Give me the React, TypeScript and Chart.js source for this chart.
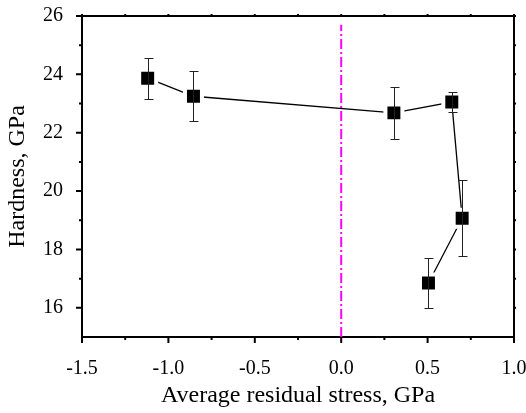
import React, { useEffect, useRef } from 'react';
import { Chart, registerables } from 'chart.js';

Chart.register(...registerables);

const stress = [-1.12, -0.855, 0.305, 0.64, 0.70, 0.505];
const hardness = [23.87, 23.25, 22.68, 23.05, 19.07, 16.85];
const hardnessErr = [0.7, 0.85, 0.9, 0.33, 1.3, 0.87];
const xTicks = [-1.5, -1.0, -0.5, 0, 0.5, 1.0];
const yTicks = [16, 18, 20, 22, 24, 26];
const xMinorTicks = [-1.25, -0.75, -0.25, 0.25, 0.75];
const yMinorTicks = [17, 19, 21, 23, 25];
const refLineX = [0, 0];
const refLineY = [15, 25.7];

const FONT = 'Liberation Serif, Times New Roman, serif';

const decorPlugin = {
  id: 'decor',
  afterDatasetsDraw(chart: any) {
    const { ctx, chartArea: a, scales } = chart;
    const x = scales.x;
    const y = scales.y;
    ctx.save();
    // error bars
    ctx.strokeStyle = '#222';
    ctx.lineWidth = 1;
    stress.forEach((sx, i) => {
      const px = Math.round(x.getPixelForValue(sx)) + 0.5;
      const top = Math.round(y.getPixelForValue(hardness[i] + hardnessErr[i])) + 0.5;
      const bot = Math.round(y.getPixelForValue(hardness[i] - hardnessErr[i])) + 0.5;
      ctx.beginPath();
      ctx.moveTo(px, top);
      ctx.lineTo(px, bot);
      ctx.moveTo(px - 4, top);
      ctx.lineTo(px + 5, top);
      ctx.moveTo(px - 4, bot);
      ctx.lineTo(px + 5, bot);
      ctx.stroke();
    });
    // frame top & right
    ctx.strokeStyle = '#000';
    ctx.lineWidth = 2;
    ctx.beginPath();
    ctx.moveTo(a.left - 1, a.top);
    ctx.lineTo(a.right, a.top);
    ctx.lineTo(a.right, a.bottom + 1);
    ctx.stroke();
    // tick marks
    ctx.lineWidth = 2;
    ctx.beginPath();
    xTicks.forEach((v) => {
      const p = x.getPixelForValue(v);
      ctx.moveTo(p, a.bottom);
      ctx.lineTo(p, a.bottom + 6);
      ctx.moveTo(p, a.top);
      ctx.lineTo(p, a.top - 2);
    });
    xMinorTicks.forEach((v) => {
      const p = x.getPixelForValue(v);
      ctx.moveTo(p, a.bottom);
      ctx.lineTo(p, a.bottom + 3);
      ctx.moveTo(p, a.top);
      ctx.lineTo(p, a.top - 2);
    });
    yTicks.forEach((v) => {
      const p = y.getPixelForValue(v);
      ctx.moveTo(a.left, p);
      ctx.lineTo(a.left - 6, p);
      ctx.moveTo(a.right, p);
      ctx.lineTo(a.right + 2, p);
    });
    yMinorTicks.forEach((v) => {
      const p = y.getPixelForValue(v);
      ctx.moveTo(a.left, p);
      ctx.lineTo(a.left - 3, p);
      ctx.moveTo(a.right, p);
      ctx.lineTo(a.right + 2, p);
    });
    ctx.stroke();
    ctx.restore();
  },
};

const zeroPad = (s: any) => {
  s.paddingLeft = 0;
  s.paddingRight = 0;
  s.paddingTop = 0;
  s.paddingBottom = 0;
};

export default function App() {
  const ref = useRef<HTMLCanvasElement>(null);

  useEffect(() => {
    document.body.style.margin = '0';
    const canvas = ref.current;
    if (!canvas) return;
    const chart = new Chart(canvas, {
      type: 'scatter',
      data: {
        datasets: [
          {
            data: stress.map((v, i) => ({ x: v, y: hardness[i] })),
            showLine: true,
            borderColor: '#000',
            borderWidth: 1.3,
            pointStyle: 'rect',
            pointRadius: 12,
            pointBackgroundColor: '#000',
            pointBorderColor: '#fff',
            pointBorderWidth: 4,
          },
          {
            data: refLineX.map((v, i) => ({ x: v, y: refLineY[i] })),
            showLine: true,
            borderColor: '#ff00ff',
            borderWidth: 2,
            borderDash: [10, 3, 2, 3],
            pointRadius: 0,
          },
        ],
      },
      options: {
        animation: false,
        responsive: false,
        layout: { autoPadding: false, padding: { left: 0, right: 12, top: 16, bottom: 0 } },
        plugins: { legend: { display: false }, tooltip: { enabled: false } },
        scales: {
          x: {
            type: 'linear',
            min: -1.5,
            max: 1.0,
            afterBuildTicks: (s: any) => {
              s.ticks = xTicks.map((v) => ({ value: v }));
            },
            afterFit: (s: any) => {
              s.height = 76;
              zeroPad(s);
            },
            ticks: {
              font: { family: FONT, size: 20 },
              color: '#000',
              padding: 20,
              autoSkip: false,
              maxRotation: 0,
              callback: (v: any) => Number(v).toFixed(1),
            },
            grid: { display: false, drawTicks: false },
            border: { display: true, color: '#000', width: 2 },
            title: {
              display: true,
              text: 'Average residual stress, GPa',
              font: { family: FONT, size: 24 },
              color: '#000',
              padding: { top: 0, bottom: 2.6 },
            },
          },
          y: {
            type: 'linear',
            min: 15,
            max: 26,
            afterBuildTicks: (s: any) => {
              s.ticks = yTicks.map((v) => ({ value: v }));
            },
            afterFit: (s: any) => {
              s.width = 82;
              zeroPad(s);
            },
            ticks: {
              font: { family: FONT, size: 20 },
              color: '#000',
              padding: 19,
              callback: (v: any) => String(v),
            },
            grid: { display: false, drawTicks: false },
            border: { display: true, color: '#000', width: 2 },
            title: {
              display: true,
              text: 'Hardness, GPa',
              font: { family: FONT, size: 24 },
              color: '#000',
              padding: { top: 3.6, bottom: 0 },
            },
          },
        },
      },
      plugins: [decorPlugin],
    });
    return () => chart.destroy();
  }, []);

  return (
    <div style={{ width: 526, height: 413 }}>
      <canvas ref={ref} width={526} height={413} />
    </div>
  );
}
